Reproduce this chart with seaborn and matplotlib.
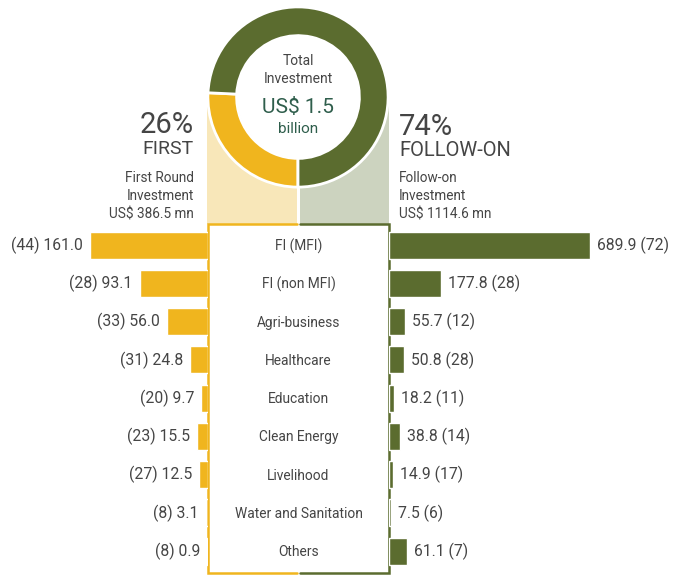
import numpy as np
import pandas as pd
import matplotlib.pyplot as plt
import seaborn as sns
from matplotlib.patches import Rectangle, Circle

# DATA
categories = ['FI (MFI)', 'FI (non MFI)', 'Agri-business', 'Healthcare', 'Education',
              'Clean Energy', 'Livelihood', 'Water and Sanitation', 'Others']
first_amount = [161.0, 93.1, 56.0, 24.8, 9.7, 15.5, 12.5, 3.1, 0.9]
first_count = [44, 28, 33, 31, 20, 23, 27, 8, 8]
follow_amount = [689.9, 177.8, 55.7, 50.8, 18.2, 38.8, 14.9, 7.5, 61.1]
follow_count = [72, 28, 12, 28, 11, 14, 17, 6, 7]
round_totals = [386.5, 1114.6]

# STYLE
sns.set_style('white')
plt.rcParams['font.family'] = ['Roboto', 'DejaVu Sans']
yellow = '#F0B51E'
green = '#5B6C2F'
light_yellow = '#F8E7B9'
light_green = '#CCD3BF'
txt = '#454545'
teal = '#2F5E4C'

W, H = 684, 575
fig = plt.figure(figsize=(W / 100, H / 100), dpi=100)


def px_axes(x0, y0, x1, y1, z=1):
    ax = fig.add_axes([x0 / W, 1 - y1 / H, (x1 - x0) / W, (y1 - y0) / H])
    ax.set_zorder(z)
    return ax


# overlay axes in pixel units for the frame and text
ov = px_axes(0, 0, W, H, z=1)
ov.set_xlim(0, W)
ov.set_ylim(H, 0)
ov.axis('off')
ov.patch.set_alpha(0)

cx, cy, r_out, r_in = 298, 97, 91, 62
box_l, box_r, box_t, box_b = 208, 389, 224, 573

# shaded links from donut to box
ov.add_patch(Rectangle((box_l - 1, cy), cx - 1 - (box_l - 1), box_t - cy, color=light_yellow, lw=0))
ov.add_patch(Rectangle((cx + 2, cy), box_r - (cx + 2), box_t - cy, color=light_green, lw=0))

# central box
ov.add_patch(Rectangle((box_l, box_t), box_r - box_l, box_b - box_t, facecolor='white', lw=0, zorder=3))
ov.plot([cx - 1, box_l, box_l, cx - 1], [box_t, box_t, box_b, box_b], color=yellow, lw=1.8, zorder=4,
        solid_joinstyle='miter')
ov.plot([cx + 2, box_r, box_r, cx + 2], [box_t, box_t, box_b, box_b], color=green, lw=1.8, zorder=4,
        solid_joinstyle='miter')

# DONUT
ax_d = px_axes(cx - r_out, cy - r_out, cx + r_out, cy + r_out, z=2)
share = round_totals[0] / sum(round_totals)
ax_d.pie(round_totals, colors=[yellow, green], startangle=270 - share * 360, counterclock=True,
         wedgeprops=dict(width=1 - r_in / r_out, edgecolor='white', linewidth=2))
ax_d.add_patch(Circle((0, 0), r_in / r_out - 0.005, color='white', zorder=5))
ax_d.set_xlim(-1.01, 1.01)
ax_d.set_ylim(-1.01, 1.01)
ax_d.set_aspect('equal')
ax_d.axis('off')
ax_d.patch.set_alpha(0)
ax_d.text(0, 0.30, 'Total\nInvestment', ha='center', va='center', fontsize=10, color=txt,
          linespacing=1.3, zorder=6)
ax_d.text(0, -0.12, 'US$ 1.5', ha='center', va='center', fontsize=15, color=teal, zorder=6)
ax_d.text(0, -0.35, 'billion', ha='center', va='center', fontsize=11, color=teal, zorder=6)

# side titles
pct_first = round(100 * round_totals[0] / sum(round_totals))
pct_follow = 100 - pct_first
ov.text(194, 125, f'{pct_first}%', ha='right', va='center', fontsize=21, color=txt)
ov.text(194, 149, 'FIRST', ha='right', va='center', fontsize=14, color=txt)
ov.text(194, 187, 'First Round\nInvestment', ha='right', va='center', fontsize=9.8, color=txt,
        linespacing=1.35)
ov.text(194, 215, f'US$ {round_totals[0]} mn', ha='right', va='center', fontsize=9.8, color=txt)
ov.text(399, 127, f'{pct_follow}%', ha='left', va='center', fontsize=21, color=txt)
ov.text(399, 151, 'FOLLOW-ON', ha='left', va='center', fontsize=14.5, color=txt)
ov.text(399, 187, 'Follow-on\nInvestment', ha='left', va='center', fontsize=9.8, color=txt,
        linespacing=1.35)
ov.text(399, 215, f'US$ {round_totals[1]} mn', ha='left', va='center', fontsize=9.8, color=txt)

# BARS
row_top, row_h = 226, 38.25
n = len(categories)
df = pd.DataFrame({'category': categories, 'first': first_amount, 'follow': follow_amount})

ax_l = px_axes(0, row_top, box_l, row_top + n * row_h, z=1)
sns.barplot(data=df, x='first', y='category', ax=ax_l, color=yellow, width=0.7, orient='h',
            saturation=1)
ax_l.set_xlim(box_l / 0.735, 0)
ax_l.set_ylim(n - 0.5, -0.5)
for i, (v, c) in enumerate(zip(first_amount, first_count)):
    ax_l.annotate(f'({c}) {v:.1f}', xy=(v, i), xytext=(-5, 0), textcoords='offset points',
                  ha='right', va='center', fontsize=11.3, color=txt)

ax_r = px_axes(box_r, row_top, W, row_top + n * row_h, z=1)
sns.barplot(data=df, x='follow', y='category', ax=ax_r, color=green, width=0.7, orient='h',
            saturation=1)
ax_r.set_xlim(0, (W - box_r) / 0.291)
ax_r.set_ylim(n - 0.5, -0.5)
for i, (v, c) in enumerate(zip(follow_amount, follow_count)):
    ax_r.annotate(f'{v:.1f} ({c})', xy=(v, i), xytext=(5, 0), textcoords='offset points',
                  ha='left', va='center', fontsize=11.3, color=txt)

for ax in (ax_l, ax_r):
    ax.axis('off')
    ax.patch.set_alpha(0)

# category labels inside the box
for i, cat in enumerate(categories):
    ov.text((box_l + box_r) / 2, row_top + (i + 0.5) * row_h + 1, cat, ha='center', va='center',
            fontsize=9.9, color=txt, zorder=5)

fig.savefig('out.png', dpi=100)
